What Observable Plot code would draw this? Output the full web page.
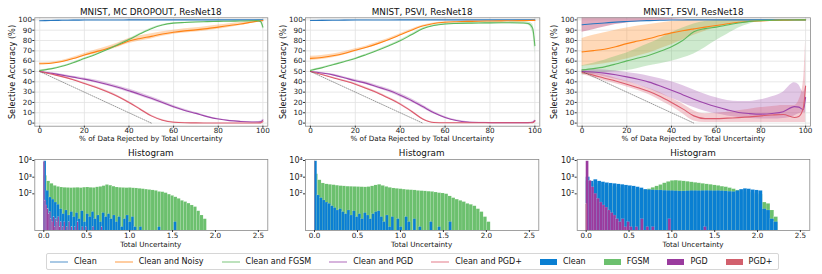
<!DOCTYPE html>
<html><head><meta charset="utf-8">
<script src="https://cdn.jsdelivr.net/npm/d3@7"></script>
<script src="https://cdn.jsdelivr.net/npm/@observablehq/plot@0.6"></script>
<style>
body{margin:0;background:#fff;}
#fig{position:relative;width:822px;height:274px;font-family:"DejaVu Sans",sans-serif;color:#111;overflow:hidden;background:#fff}
.abs{position:absolute}
.t{position:absolute;white-space:nowrap;transform:translate(-50%,-50%);line-height:1}
.legend{position:absolute;left:46px;top:253px;height:15px;border:1px solid #d6d6d6;border-radius:2px;display:flex;align-items:center;padding:0 5px 0 3px;gap:18px;font-size:8px;background:#fff}
.item{display:flex;align-items:center;gap:6px;white-space:nowrap}
.item svg{display:block;flex:none}
</style></head><body><div id="fig"></div><script>
// ---------- data: selective accuracy curves ----------
const pct = [0,5,10,15,20,25,30,35,40,45,50,55,60,65,70,75,80,85,90,95,97,99,100];
const seriesNames = ["Clean","Clean and Noisy","Clean and FGSM","Clean and PGD","Clean and PGD+"];
const panelTitles = ["MNIST, MC DROPOUT, ResNet18","MNIST, PSVI, ResNet18","MNIST, FSVI, ResNet18"];
const oracleX = [0,50];
const oracleY = [50,0];
const xTicks = [0,20,40,60,80,100];
const yTicks = [0,10,20,30,40,50,60,70,80,90,100];

// MC Dropout (mean, half-width of band)
const mcdClean   = [99.2,99.4,99.6,99.7,99.8,99.85,99.9,99.9,99.95,99.95,100,100,100,100,100,100,100,100,100,100,100,100,100];
const mcdCleanSd = [0.3,0.3,0.25,0.2,0.2,0.15,0.1,0.1,0.1,0.1,0,0,0,0,0,0,0,0,0,0,0,0,0];
const mcdNoisy   = [57.5,58,59.7,62.5,66,69,72,75.5,79.5,82,84,86.3,88,89.3,90.3,91.5,93,94.5,96,97.8,98.5,99.2,99.3];
const mcdNoisySd = [1,1,1,1.2,1.5,1.8,2,2.2,2.5,2.5,2.5,2.2,2,2,2,2,2,1.8,1.5,1,0.8,0.5,0.5];
const mcdFgsm    = [51,52.5,55,58.5,62.5,66.5,71,76,81,86.5,91.5,95,96.8,97.5,98,98.3,98.5,98.7,98.9,99.1,99.3,98.5,93];
const mcdFgsmSd  = [0.5,0.5,0.5,0.5,0.5,0.5,0.5,0.5,0.5,0.5,0.5,0.5,0.4,0.3,0.3,0.3,0.3,0.3,0.3,0.3,0.4,1.5,3];
const mcdPgd     = [50,48.3,46.5,44.5,42.6,40.3,37.7,34.7,31.3,27.8,24,20,15.8,12.3,9.4,6.3,3.9,2.4,1.6,1.1,1,1.2,3];
const mcdPgdSd   = [0.3,0.6,0.8,1,1.2,1.4,1.5,1.6,1.7,1.7,1.6,1.5,1.3,1.1,0.9,0.7,0.5,0.4,0.3,0.3,0.3,0.5,1];
const mcdPgdp    = [50,47.5,45,42,38.4,34.8,30.6,25.8,20,13.5,7,2.8,0.8,0.3,0.2,0.1,0.1,0.1,0.1,0.1,0.1,0.2,1.5];
const mcdPgdpSd  = [0.3,0.5,0.6,0.7,0.8,0.9,1,1,1,1,0.9,0.7,0.4,0.2,0.1,0.1,0.1,0.1,0.1,0.1,0.1,0.2,0.5];

// PSVI
const psviClean   = [99.4,99.5,99.6,99.7,99.8,99.85,99.9,99.9,99.95,99.95,100,100,100,100,100,100,100,100,100,100,100,100,100];
const psviCleanSd = [0.3,0.3,0.25,0.2,0.2,0.15,0.1,0.1,0.1,0.1,0,0,0,0,0,0,0,0,0,0,0,0,0];
const psviNoisy   = [62.7,63.5,65.2,67.5,70.6,73.5,77,81,85.5,90,94,96.5,97.7,98.2,98.5,98.7,98.9,99,99.2,99.3,99.4,99.5,99.5];
const psviNoisySd = [2,2,1.8,1.6,1.4,1.3,1.2,1.1,1,0.9,0.7,0.5,0.4,0.3,0.3,0.3,0.3,0.3,0.3,0.3,0.3,0.3,0.3];
const psviFgsm    = [51,53.5,56.5,59.5,62.6,66.5,70.6,75,79.7,85.5,91.3,94.5,96,96.5,96.8,97,97.1,97.2,97.2,97,96.5,92,75];
const psviFgsmSd  = [0.5,0.5,0.5,0.5,0.5,0.5,0.5,0.6,0.7,0.8,0.8,0.8,1,1,1,1,1,1,1.1,1.2,1.5,4,8];
const psviPgd     = [50,48.5,46.7,44,41,38.5,35,31.5,27,22,16,10,5.5,2.5,1,0.6,0.5,0.5,0.5,0.5,0.5,0.8,2.5];
const psviPgdSd   = [0.3,0.6,0.8,1,1.2,1.3,1.4,1.5,1.6,1.6,1.5,1.3,1,0.7,0.4,0.2,0.2,0.2,0.2,0.2,0.2,0.3,1];
const psviPgdp    = [50,47,44,41,37.7,33.5,29.2,24,18.4,11.5,4,0.6,0.3,0.3,0.3,0.3,0.3,0.3,0.3,0.3,0.3,0.4,2];
const psviPgdpSd  = [0.3,0.5,0.6,0.7,0.8,0.9,1,1,1,1,0.8,0.3,0.2,0.2,0.2,0.2,0.2,0.2,0.2,0.2,0.2,0.3,0.8];

// FSVI (mean, lower, upper)
const fsviClean   = [95.2,96.2,97,97.8,98.4,98.9,99.3,99.6,99.8,99.9,100,100,100,100,100,100,100,100,100,100,100,100,100];
const fsviCleanLo = [88,90.5,93,95.5,97,98.2,99,99.5,99.8,99.9,100,100,100,100,100,100,100,100,100,100,100,100,100];
const fsviCleanHi = [103,103,103,103,103,103,103,102,101,100.5,100,100,100,100,100,100,100,100,100,100,100,100,100];
const fsviNoisy   = [69,70.2,71.6,74,77,79.5,82,84.8,87.4,89.5,91.3,93,94.5,96.2,97.7,98.5,99,99.4,99.7,99.9,100,100,100];
const fsviNoisyLo = [55,56,57.5,59.5,62,65,68,72,76,80.5,85,89,92.5,95,97,98.2,99,99.5,99.8,100,100,100,100];
const fsviNoisyHi = [82,85,87.5,90,92,94,95.5,97,98.5,99.5,100,100,100,100,100,100,100,100,100,100,100,100,100];
const fsviFgsm    = [51.6,52.8,54.5,57.2,60.3,63,65.8,69.5,74,80,88.4,91.5,93,95,97,98.5,99.3,99.6,99.8,99.9,100,100,100];
const fsviFgsmLo  = [46.5,47.5,49,50,51,53,55.5,57.5,60,63,67,73,80,86,92,96,98.8,99.5,99.8,99.9,100,100,100];
const fsviFgsmHi  = [55.5,58,61,64.5,68,72.5,77,82,87.5,92,96,98.5,99.5,100,100,100,100,100,100,100,100,100,100];
const fsviPgd     = [50,49.5,48.4,46.8,44.8,42.5,39.7,36,31.9,27.5,23.2,19.3,15.8,12.8,10.3,9.2,8.7,9.3,11,16,15.5,13,25];
const fsviPgdLo   = [48,47,45,42.5,40,37,33,28.5,24,19.5,15,11.5,9,7,5.5,4.5,4,4,4.5,7,9,10,10];
const fsviPgdHi   = [52,52,51.5,50.5,49,47.5,45.5,43,40,36.5,32,28,24.5,22,21,21,22.5,25.5,30,39,37,30,35];
const fsviPgdp    = [49,46.5,43.5,40.8,37.7,34.3,30.6,25.8,20,13.8,7,4.3,4.3,4.8,5.3,6,7,7.8,8.3,5.5,6.5,15,36];
const fsviPgdpLo  = [47,44,41,38,35,31.5,27.5,22,16,9,2,0.5,0.5,0.5,0.5,0.5,0.5,0.5,0.5,0.5,0.5,0.5,0.5];
const fsviPgdpHi  = [51,49,46.5,43.5,40.5,37,33.5,29.5,24,18.5,12,9,9.5,10.5,12,13.5,15,16,17,17,22,40,80];

// ---------- data: histograms (bin width, counts per bin starting at 0) ----------
const histNames = ["Clean","FGSM","PGD","PGD+"];
const histXTicks = [0,0.5,1,1.5,2,2.5];
const histYTicks = [100,1000,10000];

const mcdHistCleanW = 0.031;
const mcdHistClean = [9000,150,60,45,30,22,12,6,10,5,8,4,7,3,9,2,6,4,8,3,5,2,7,4,6,3,5,2,4,1,3,5,2,4,1,0,1,0,0,0,0,0,0,1,0,0,0,0,0,2];
const mcdHistFgsmW = 0.038;
const mcdHistFgsm = [1200,560,400,300,260,240,230,225,220,225,230,220,235,240,230,225,245,260,290,340,310,270,240,230,225,220,225,215,210,200,190,180,170,160,150,130,125,110,90,75,62,50,38,32,26,20,16,9,5,3];
const mcdHistPgdW = 0.014;
const mcdHistPgd = [8500,40,20,12,6,8,3,2,4,1,3,2,4,1,2,0,1,2,0,1,0,2,0,1,0,0,1,0,2,0,0,0,1,0,0,1,0,0,0,0,0,1,0,0,0,0,0,0,1,0];
const mcdHistPgdpW = 0.01;
const mcdHistPgdp = [];

const psviHistCleanW = 0.032;
const psviHistClean = [9000,80,55,40,30,25,18,14,10,12,8,6,10,5,9,4,6,3,7,5,3,6,8,9,4,2,5,1,4,0,3,1,0,4,2,0,3,0,1,0,0,0,2,0,0,1,0,0,0,2];
const psviHistFgsmW = 0.041;
const psviHistFgsm = [1500,650,420,370,350,330,310,290,280,270,265,260,255,250,245,255,280,320,350,300,260,230,210,200,190,180,170,165,160,150,145,140,135,130,120,110,105,95,70,55,45,38,32,25,22,18,12,8,4,2];
const psviHistPgdW = 0.004;
const psviHistPgd = [];
const psviHistPgdpW = 0.004;
const psviHistPgdp = [9500];

const fsviHistCleanW = 0.0448;
const fsviHistClean = [1000,560,700,560,500,450,420,400,370,350,320,300,280,250,220,180,170,165,160,160,155,150,150,145,140,140,145,150,150,148,150,152,150,148,150,145,140,135,130,150,180,200,190,170,160,150,12,10,3,2];
const fsviHistFgsmW = 0.0448;
const fsviHistFgsm = [600,400,400,350,320,300,280,260,240,220,200,190,180,170,165,170,190,230,280,340,430,520,600,620,590,560,530,490,460,430,400,370,350,320,300,270,250,220,190,160,140,130,120,110,100,90,30,25,10,4];
const fsviHistPgdW = 0.032;
const fsviHistPgd = [9000,600,250,100,50,30,20,15,10,7,5,3,2,3,1,2,1,0,1,0,3,0,1,0,1,0,0,0,0,0,3,0,0,0,0,0,0,0,0,0,0,0,0,1,0,0,0,0,0,0];
const fsviHistPgdpW = 0.008;
const fsviHistPgdp = [25];

// ---------- styling ----------
const lineColors = ["#2878c0","#ff8214","#5cb85c","#9c44aa","#dc5a6c"];
const histColors = ["#0a7fd2","#6cc06e","#9a3b9e","#d2606d"];
const fsviCleanBandColor = "#c45a82";

const fig = document.getElementById("fig");
function addText(txt, x, y, size, rotate) {
  const d = document.createElement("div");
  d.className = "t";
  d.textContent = txt;
  d.style.left = x + "px"; d.style.top = y + "px"; d.style.fontSize = size + "px";
  if (rotate) d.style.transform = "translate(-50%,-50%) rotate(-90deg)";
  fig.appendChild(d);
}
function place(el, left, top) {
  const w = document.createElement("div");
  w.className = "abs"; w.style.left = left + "px"; w.style.top = top + "px";
  w.appendChild(el); fig.appendChild(w);
}

const axStyle = {fontFamily: "DejaVu Sans", fontSize: "7.2px", color: "#1a1a1a", overflow: "visible", background: "transparent"};

function topPanel(idx, left, frameL, frameR, series) {
  const W = 272, H = 142, top = 17.3, bottom = 125.7;
  const marks = [
    Plot.gridX(xTicks, {stroke: "#e2e2e2", strokeOpacity: 1, strokeWidth: 0.8}),
    Plot.gridY(yTicks, {stroke: "#e2e2e2", strokeOpacity: 1, strokeWidth: 0.8})
  ];
  const rowsAll = series.map(s => pct.map((x, i) => ({
    x, y: s.mean[i],
    lo: s.lo ? s.lo[i] : s.mean[i] - s.sd[i],
    hi: s.hi ? s.hi[i] : s.mean[i] + s.sd[i]
  })));
  series.forEach((s, k) => marks.push(Plot.areaY(rowsAll[k], {x: "x", y1: "lo", y2: "hi", fill: s.band || lineColors[k], fillOpacity: s.band ? 0.5 : 0.3, curve: "monotone-x", clip: true})));
  series.forEach((s, k) => marks.push(Plot.line(rowsAll[k], {x: "x", y: "y", stroke: lineColors[k], strokeWidth: 1.1, curve: "monotone-x", clip: true})));
  marks.push(Plot.line(oracleX.map((x, i) => ({x, y: oracleY[i]})), {x: "x", y: "y", stroke: "#555", strokeWidth: 0.6, strokeDasharray: "1,1.3"}));
  marks.push(Plot.frame({stroke: "#8a8a8a", strokeWidth: 0.8}));
  marks.push(Plot.axisX({ticks: xTicks, tickSize: 2, tickPadding: 0, label: null, stroke: "#333"}));
  marks.push(Plot.axisY({ticks: yTicks, tickSize: 2, tickPadding: 0.8, label: null, stroke: "#333"}));
  const p = Plot.plot({
    width: W, height: H,
    marginLeft: frameL - left, marginRight: left + W - frameR, marginTop: top, marginBottom: H - bottom,
    x: {domain: [-2.2, 102.2]},
    y: {domain: [-3, 102]},
    style: axStyle,
    marks
  });
  place(p, left, 0);
  const cx = (frameL + frameR) / 2;
  addText(panelTitles[idx], cx, 12.3, 8.8);
  addText("% of Data Rejected by Total Uncertainty", cx, 138.5, 7.2);
  addText("Selective Accuracy (%)", frameL - 22.3, (top + bottom) / 2, 8.2, true);
}

const supers = {100: "10²", 1000: "10³", 10000: "10⁴"};
function histPanel(left, frameL, frameR, hists) {
  const W = 272, H = 100, topPx = 145, frameTop = 159, frameBottom = 230;
  const marks = [];
  // draw order: FGSM, Clean, PGD, PGD+
  [1, 0, 2, 3].forEach(k => {
    const h = hists[k];
    const rows = h.counts.map((c, i) => ({x1: i * h.w, x2: (i + 1) * h.w, y1: 0.3, y2: c})).filter(d => d.y2 > 0);
    marks.push(Plot.rect(rows, {x1: "x1", x2: "x2", y1: "y1", y2: "y2", fill: histColors[k], clip: true, stroke: "#ffffff", strokeWidth: 0.25, strokeOpacity: 0.45}));
  });
  marks.push(Plot.frame({stroke: "#8a8a8a", strokeWidth: 0.8}));
  marks.push(Plot.axisX({ticks: histXTicks, tickFormat: d3.format(".1f"), tickSize: 2, tickPadding: 0.5, label: null, stroke: "#333"}));
  marks.push(Plot.axisY({ticks: histYTicks, tickFormat: d => supers[d], tickSize: 2, tickPadding: 0.8, label: null, stroke: "#333", fontSize: 8}));
  const p = Plot.plot({
    width: W, height: H,
    marginLeft: frameL - left, marginRight: left + W - frameR, marginTop: frameTop - topPx, marginBottom: topPx + H - frameBottom,
    x: {domain: [-0.105, 2.61]},
    y: {type: "log", domain: [0.63, 11500]},
    style: axStyle,
    marks
  });
  place(p, left, topPx);
  const cx = (frameL + frameR) / 2;
  addText("Histogram", cx, 153, 8.8);
  addText("Total Uncertainty", cx, 244.5, 7.2);
}

topPanel(0, 0, 34.3, 267.3, [
  {mean: mcdClean, sd: mcdCleanSd}, {mean: mcdNoisy, sd: mcdNoisySd}, {mean: mcdFgsm, sd: mcdFgsmSd},
  {mean: mcdPgd, sd: mcdPgdSd}, {mean: mcdPgdp, sd: mcdPgdpSd}]);
topPanel(1, 271, 305, 539.3, [
  {mean: psviClean, sd: psviCleanSd}, {mean: psviNoisy, sd: psviNoisySd}, {mean: psviFgsm, sd: psviFgsmSd},
  {mean: psviPgd, sd: psviPgdSd}, {mean: psviPgdp, sd: psviPgdpSd}]);
topPanel(2, 542, 576.7, 810, [
  {mean: fsviClean, lo: fsviCleanLo, hi: fsviCleanHi, band: fsviCleanBandColor},
  {mean: fsviNoisy, lo: fsviNoisyLo, hi: fsviNoisyHi}, {mean: fsviFgsm, lo: fsviFgsmLo, hi: fsviFgsmHi},
  {mean: fsviPgd, lo: fsviPgdLo, hi: fsviPgdHi}, {mean: fsviPgdp, lo: fsviPgdpLo, hi: fsviPgdpHi}]);

histPanel(0, 34.3, 267.3, [
  {w: mcdHistCleanW, counts: mcdHistClean}, {w: mcdHistFgsmW, counts: mcdHistFgsm},
  {w: mcdHistPgdW, counts: mcdHistPgd}, {w: mcdHistPgdpW, counts: mcdHistPgdp}]);
histPanel(271, 305, 538.3, [
  {w: psviHistCleanW, counts: psviHistClean}, {w: psviHistFgsmW, counts: psviHistFgsm},
  {w: psviHistPgdW, counts: psviHistPgd}, {w: psviHistPgdpW, counts: psviHistPgdp}]);
histPanel(542, 576.7, 809.3, [
  {w: fsviHistCleanW, counts: fsviHistClean}, {w: fsviHistFgsmW, counts: fsviHistFgsm},
  {w: fsviHistPgdW, counts: fsviHistPgd}, {w: fsviHistPgdpW, counts: fsviHistPgdp}]);

// ---------- legend ----------
const NS = "http://www.w3.org/2000/svg";
function swatch(kind, color) {
  const s = document.createElementNS(NS, "svg");
  s.setAttribute("width", kind === "line" ? 18 : 17);
  s.setAttribute("height", 8);
  if (kind === "line") {
    const l = document.createElementNS(NS, "line");
    l.setAttribute("x1", 0); l.setAttribute("x2", 18); l.setAttribute("y1", 4); l.setAttribute("y2", 4);
    l.setAttribute("stroke", color); l.setAttribute("stroke-width", 1.6); l.setAttribute("stroke-opacity", 0.5);
    s.appendChild(l);
  } else {
    const r = document.createElementNS(NS, "rect");
    r.setAttribute("x", 0); r.setAttribute("y", 1); r.setAttribute("width", 17); r.setAttribute("height", 6);
    r.setAttribute("fill", color);
    s.appendChild(r);
  }
  return s;
}
const leg = document.createElement("div");
leg.className = "legend";
seriesNames.forEach((n, k) => {
  const it = document.createElement("div"); it.className = "item";
  const tx = document.createElement("span"); tx.textContent = n;
  it.appendChild(swatch("line", lineColors[k])); it.appendChild(tx); leg.appendChild(it);
});
histNames.forEach((n, k) => {
  const it = document.createElement("div"); it.className = "item";
  const tx = document.createElement("span"); tx.textContent = n;
  it.appendChild(swatch("patch", histColors[k])); it.appendChild(tx); leg.appendChild(it);
});
fig.appendChild(leg);
</script></body></html>
